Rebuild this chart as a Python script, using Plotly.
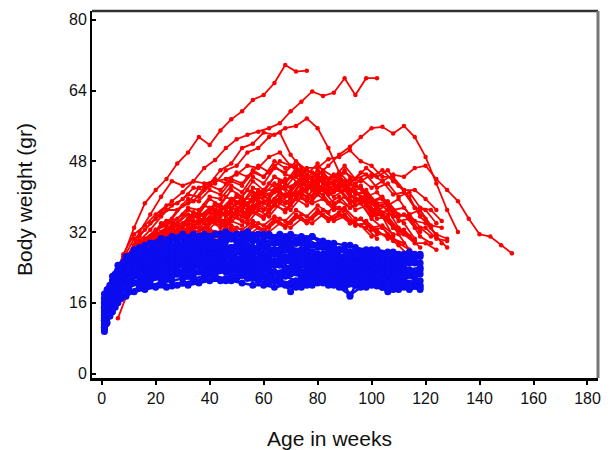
import plotly.graph_objects as go

# ---------------- data ----------------
x_tick_values = [0, 20, 40, 60, 80, 100, 120, 140, 160, 180]
y_tick_values = [0, 16, 32, 48, 64, 80]
x_title = "Age in weeks"
y_title = "Body weight (gr)"

red_weeks_a = [1, 3, 5, 8, 12, 16, 20, 24, 28, 32, 36, 40, 44, 48, 52, 56, 60, 64, 68, 72,
               76, 80, 84, 88, 92, 96, 100, 104, 108, 112, 116, 120, 124, 128, 132, 136, 140, 144, 148, 152]
red_weeks_b = [2, 4, 6, 10, 14, 18, 22, 26, 30, 34, 38, 42, 46, 50, 54, 58, 62, 66, 70, 74,
               78, 82, 86, 90, 94, 98, 102, 106, 110, 114, 118, 122, 126]

blue_weeks_a = [1, 2, 4, 6, 9, 12, 16, 20, 24, 28, 32, 36, 40, 44, 48, 52, 56, 60, 64, 68,
                72, 76, 80, 84, 88, 92, 96, 100, 104, 108, 112, 116]
blue_weeks_b = [1, 3, 5, 7, 10, 14, 18, 22, 26, 30, 34, 38, 42, 46, 50, 54, 58, 62, 66, 70,
                74, 78, 82, 86, 90, 94, 98, 102, 106, 110, 114, 118]

# red group (body weight, g)
red_01 = [11, 18, 22, 26.5, 33, 38.5, 41.5, 44, 47.5, 50, 53.5, 51.7, 55, 57.5, 59.3, 61.9, 63, 65.7, 69.8, 68.3, 68.5]
red_02 = [12, 17, 21, 27, 31, 34, 36.5, 39, 41, 43.5, 46.5, 48.3, 51, 53, 54, 54.7, 55.5, 56.6, 59.3, 61.5, 63.8, 62.8, 63.5, 66.8, 63, 66.8, 66.8]
red_03 = [12, 15, 19, 23, 27, 30, 32.5, 33.5, 37, 38.5, 42, 43, 46, 47.5, 51, 52, 54.5, 54, 55.5, 56, 57.7, 55.5, 51, 45.5, 43, 40, 39, 35.5, 33]
red_04 = [13, 16, 20, 25, 28.5, 30.5, 34, 35, 38, 39, 42, 43, 46, 47, 50, 51, 53.5, 54.5, 49.5, 46.5, 43.5, 43.5, 41.5, 41.5, 39.5, 38.5, 36.5, 35]
red_05 = [12, 16, 19, 22, 26, 28, 30, 31, 32, 33, 34, 35, 36, 37, 38, 39, 40, 41, 42, 43, 44, 45, 47, 49.5, 51.3, 53.5, 55.5, 55.8, 54.3, 56, 53.5, 49, 43, 37, 32]
red_06 = [13, 17, 20, 24, 27.5, 28.5, 31.5, 31.5, 33.5, 33.5, 35, 35, 36.5, 36, 38, 37.5, 39, 39, 40.5, 40.5, 42, 41.5, 43, 42.5, 44, 43.5, 45, 43.5, 45, 44.5, 46.5, 47, 44, 41.5, 39, 35, 31.5, 31, 29, 27.2]
red_07 = [12, 16, 21, 27, 32, 36, 40, 43.5, 42.5, 43.5, 43, 43.5, 44, 45, 47, 46.5, 49, 50, 47, 45, 44, 43.5, 43, 42, 41, 39, 37.5, 36]
red_08 = [11, 15, 18, 22, 25.5, 26.5, 29.5, 29.5, 32, 32.5, 34.5, 34.5, 37, 37.5, 39.5, 39.5, 41.5, 41.5, 44, 44.5, 46.5, 46.5, 48.5, 49, 50.5, 48, 47, 44.5, 44.5, 41.5, 41.5, 39.5, 37]
red_09 = [12, 16, 20, 25, 28.5, 29.5, 32, 33.5, 34, 36.5, 36, 38.5, 37.5, 40.5, 38, 41, 39.5, 42.5, 40, 43.5, 41.5, 44, 41, 42.5, 39, 40.5, 37, 38, 34.5, 35, 31, 29.5]
red_10 = [13, 17, 21, 25, 28.5, 30, 32, 34.5, 34, 37, 36, 39.5, 38, 41.5, 40, 43.5, 41.5, 44.5, 43, 46.5, 45, 47.5, 44, 45, 41.5, 42.5, 39, 39.5, 36, 34, 30.5]
red_11 = [11, 15, 19, 24, 27.5, 28.5, 30, 31.5, 30.5, 33.5, 32, 35, 33.5, 36.5, 35, 38, 36.5, 39.5, 38, 41, 39, 42, 40, 41.5, 38, 39.5, 36, 37, 33, 31, 28.5]
red_12 = [12, 16, 20, 24, 27.5, 29, 31.5, 33, 32.5, 35, 34, 36.5, 35.5, 38.5, 37, 40, 38.5, 41.5, 40, 43, 41.5, 44.5, 42.5, 44, 41, 42, 39, 40, 37, 37.5, 34.5, 34, 31.5, 30.5]
red_13 = [12, 16, 19, 23, 26.5, 28, 29.5, 31, 30.5, 32.5, 31.5, 34, 33, 35.5, 34, 37, 35.5, 38.5, 37, 40, 38.5, 39.5, 37, 37.5, 35, 34.5, 32.5, 30.5]
red_14 = [11, 15, 19, 23, 27.5, 29.5, 32, 34.5, 35, 37.5, 37, 40, 39.5, 42.5, 41, 44.5, 43, 46.5, 45.5, 48, 46, 45, 43, 43.5, 40, 39.5, 36.5, 35.5, 31]
red_15 = [13, 17, 21, 26, 29.5, 31, 33.5, 34, 36, 35.5, 38, 37, 40, 38.5, 41.5, 40, 43, 41.5, 44.5, 42.5, 45.5, 43.5, 45, 42, 43, 40, 41, 38, 39.5, 36, 37, 33.5, 33]
red_16 = [12, 16, 20, 24, 27.5, 28.5, 30, 31.5, 31, 33, 32, 34.5, 33, 35.5, 34.5, 37, 35.5, 38.5, 36.5, 39.5, 38, 40.5, 38.5, 40, 37.5, 38.5, 35.5, 36, 33, 32.5, 30]
red_17 = [12, 16, 20, 24, 28, 29, 31, 32.5, 32, 34.5, 34, 36.5, 36, 38.5, 38, 40.5, 39.5, 42.5, 41, 44, 42.5, 45, 42.5, 43, 40.5, 41, 38, 38.5, 35.5, 36, 33, 31]
red_18 = [11, 14, 18, 22, 25.5, 26.5, 28.5, 29.5, 29, 31, 30, 32, 30.5, 33, 31.5, 34, 32.5, 35, 33.5, 36, 34.5, 37, 35, 36.5, 34, 35, 32.5, 33, 30.5, 29.5]
red_19 = [13, 17, 21, 25, 28.5, 30, 32, 33.5, 33, 35.5, 34.5, 37, 35.5, 38.5, 37, 40, 38.5, 41, 39.5, 42, 40, 41.5, 38.5, 40, 37, 38, 35, 35.5, 32.5, 31]
red_20 = [12, 17, 22, 27, 31.5, 33.5, 36, 38, 38.5, 40.5, 40, 42.5, 41.5, 44, 43, 46, 44.5, 47, 45, 44.5, 42, 43, 40.5, 41.5, 38.5, 39.5, 36.5, 36, 33.5]
red_21 = [None, None, 12.5, 19, 24.5, 26.5, 29, 31, 30.5, 33, 32.5, 35, 34, 37, 35.5, 38.5, 37, 40, 38.5, 41.5, 40, 43, 41.5, 43.5, 40.5, 41.5, 38.5, 39, 36, 35.5, 32]
red_22 = [12, 16, 20, 24, 27.5, 28, 29.5, 30.5, 30, 31.5, 30.5, 32.5, 31.5, 33.5, 32.5, 34.5, 33.5, 35.5, 34.5, 37, 35.5, 38, 36.5, 39, 37.5, 39.5, 37, 38, 35.5, 36, 33, 33, 30.5, 30]
red_23 = [11, 15, 19, 23, 26.5, 27.5, 29, 30, 29.5, 31, 30, 32, 31, 33, 32, 34, 33, 35, 34, 36, 35, 37, 35, 36, 33.5, 34, 31.5, 31.5, 29.5, 28]
red_24 = [13, 17, 21, 26, 30.5, 32.5, 35, 37, 37, 39.5, 39, 41.5, 40.5, 43.5, 42.5, 45.5, 44.5, 48, 46.5, 47, 44, 44.5, 41.5, 42, 39, 39.5, 36, 36, 33, 31.5, 30]
red_25 = [12, 16, 20, 24, 27.5, 29, 31.5, 33, 33.5, 36, 35.5, 38, 37, 40, 38.5, 41.5, 40.5, 43.5, 42, 44.5, 43, 46, 44.5, 47, 44, 45, 42, 43, 40, 41, 37.5, 37, 34.5]
red_26 = [12, 15, 18, 22, 25.5, 26.5, 28, 29.5, 29, 30.5, 29.5, 31.5, 30.5, 32.5, 31, 33.5, 32, 34.5, 33, 35.5, 34, 36.5, 34.5, 36, 34, 35, 33, 33.5, 31.5, 31.5, 29.5, 29.5, 28]
red_27 = [11, 15, 19, 23, 26, 26.5, 28, 29, 28.5, 30, 29, 31, 30, 32, 31, 33, 32, 34, 33, 35, 34, 36, 34.5, 35.5, 33.5, 34, 32, 31, 29, 26.5]
red_28 = [12, 16, 19, 23, 26.5, 27.5, 29, 30.5, 30, 31.5, 30.5, 32.5, 32, 34.5, 33.5, 36.5, 35, 38, 37, 40, 39, 42, 40.5, 43, 41.5, 44, 42, 43.5, 40.5, 41, 37.5, 37, 34]
red_29 = [12, 15, 18.5, 23, 26, 27.5, 29.5, 31, 31, 33, 32.5, 35, 34.5, 37, 36, 39, 38, 41, 40, 43, 42, 45, 43.5, 46, 42.5, 41, 37.5, 35, 31.5, 28]
red_30 = [13, 17, 21, 25.5, 29, 30.5, 32.5, 34, 34, 36, 35.5, 37.5, 37, 39.5, 38.5, 41, 40.5, 43, 42, 45, 43.5, 46, 44, 45, 40.5, 38.5, 35, 33, 30]
red_31 = [12, 16, 20, 24.5, 27.5, 29, 30.5, 32, 31.5, 33.5, 33, 35.5, 34.5, 37, 36.5, 39, 38, 41, 40, 43, 41.5, 44.5, 43, 45.5, 44, 46.5, 44.5, 46, 42.5, 40, 35.5, 33, 29.5]
red_32 = [11, 15, 19, 23, 26.5, 28, 30, 32, 32, 34.5, 34, 37, 36.5, 39.5, 38.5, 42, 41, 44.5, 43.5, 45.5, 42.5, 41.5, 38.5, 37.5, 34.5, 33.5, 31]
red_33 = [12, 16, 21, 26, 30, 32.5, 35.5, 38, 39.5, 42, 41.5, 44, 43, 45.5, 44.5, 47, 45.5, 48, 47, 45.5, 41.5, 40.5, 37.5, 37, 34, 33, 30.5]
red_34 = [12, 16, 20, 24.5, 28, 29.5, 31, 32.5, 32, 34, 33, 35, 34, 36.5, 35.5, 38, 37, 39.5, 38.5, 41, 40, 42.5, 41.5, 44, 43, 45.5, 44.5, 46, 43.5, 41.5, 37.5, 35, 31, 28.5]

# blue group (body weight, g)
blue_01 = [9.5, 11.5, 14, 16, 17.5, 18.5, 19, 19.5, 19.5, 20, 20, 20.5, 21, 21, 21, 20.5, 20, 20, 19.5, 20, 19.5, 20, 20.5, 20, 19.5, 17.8, 19.5, 20, 19.5, 19, 19.5, 20]
blue_02 = [10, 13, 15.5, 17, 18.5, 19.5, 20, 20.5, 19.8, 20.5, 21, 21.5, 21.5, 21, 21.5, 22, 21.5, 21, 20.5, 20, 20.5, 21, 21, 20.5, 20, 20, 20.5, 19.8, 20, 20.5, 19.5, 20]
blue_03 = [11, 13, 15.5, 17.5, 19, 20.5, 20.5, 22, 21.5, 22.5, 22, 23, 22.5, 23.5, 22, 22.5, 21.5, 22, 21, 22, 21, 21.5, 21, 21.5, 20.5, 21, 20.5, 21, 19.5, 21, 20.5]
blue_04 = [12, 14, 16.5, 18.5, 20, 21, 21.5, 22, 22.5, 23, 23, 23.5, 23, 23.5, 23.5, 23, 22.5, 22.5, 22, 22.5, 22, 21.5, 22, 21.5, 21, 21.5, 21, 21, 20.5, 21]
blue_05 = [12, 14.5, 17, 19, 20.5, 22, 22, 23.5, 23, 24.5, 23.5, 24.5, 24, 25, 24, 24.5, 23.5, 24, 23, 23.5, 23, 23.5, 22, 23, 22, 22.5, 22, 22.5, 21, 22, 21.5, 22]
blue_06 = [13, 15.5, 18, 20, 21.5, 22.5, 23, 23.5, 24, 24.5, 24.5, 25, 24.5, 25, 25, 25.5, 25, 24.5, 24.5, 24, 24.5, 24, 23.5, 23.5, 23, 23, 22.5, 23, 22.5, 22, 22.5]
blue_07 = [10.5, 13, 16, 18.5, 20.5, 22.5, 22.5, 24.5, 24, 25.5, 24.5, 26, 25, 26.5, 25, 26.5, 25, 25.5, 25, 25.5, 24, 25, 24, 24.5, 23.5, 24, 23.5, 24, 22.5, 23.5, 23, 22.5]
blue_08 = [14, 16, 18.5, 20.5, 22, 23, 24, 24.5, 25, 25.5, 25.5, 26, 26, 26.5, 26, 26.5, 26, 26, 25.5, 25.5, 25, 25.5, 25, 24.5, 24.5, 24, 24, 23.5, 24, 23.5, 23, 23.5]
blue_09 = [12.5, 15, 18, 20.5, 22.5, 24, 24, 25.5, 25, 26.5, 26, 27, 26.5, 27.5, 26.5, 27.5, 26, 27, 25.5, 26.5, 25.5, 26, 25, 25.5, 24.5, 25, 24.5, 25, 23.5, 24.5, 24]
blue_10 = [15, 17, 19.5, 21.5, 23, 24, 25, 25.5, 26, 26.5, 27, 27, 27.5, 27, 27.5, 28, 27.5, 27, 27, 26.5, 27, 26.5, 26, 26, 25.5, 25.5, 25, 25.5, 25, 24.5, 25]
blue_11 = [11.5, 14, 17.5, 20, 22.5, 24.5, 24.5, 26.5, 26, 27.5, 26.5, 28, 27.5, 28.5, 27.5, 28.5, 28, 28.5, 27, 28, 26.5, 27.5, 26.5, 27, 25.5, 26.5, 25, 26, 25, 25.5, 25, 25]
blue_12 = [16, 18, 20.5, 22.5, 24, 25.5, 26, 26.5, 27, 27.5, 28, 28, 28.5, 28.5, 29, 28.5, 28.5, 28, 28, 28.5, 28, 27.5, 27, 27, 26.5, 26.5, 26, 26, 25.5, 26, 25.5]
blue_13 = [13, 16, 19.5, 22, 24, 26, 26, 27.5, 27, 28.5, 28, 29.5, 28.5, 30, 28.5, 30, 28.5, 29.5, 28, 29, 27.5, 28.5, 27, 27.5, 26.5, 27, 26, 26.5, 25.5, 26.5, 25.5, 26.5]
blue_14 = [17, 19, 21.5, 23.5, 25, 26.5, 27.5, 28, 28.5, 29, 29.5, 30, 29.5, 30, 30, 30.5, 30, 29.5, 29.5, 29, 29.5, 29, 28.5, 28, 28, 27.5, 27.5, 27, 27, 26.5, 27, 26.5]
blue_15 = [14, 17, 20.5, 23, 25.5, 27.5, 27.5, 29.5, 29, 30.5, 30, 31, 30.5, 31.5, 30.5, 31.5, 31, 31.5, 30, 31, 29.5, 30.5, 29, 29.5, 28, 29, 27.5, 28, 27, 27.5, 27, 27]
blue_16 = [18, 20, 22.5, 24.5, 26.5, 28.5, 29.5, 30.5, 30.5, 31, 31.5, 31, 31.5, 31, 31.5, 32, 31.5, 31, 31.5, 31, 30.5, 31, 30, 29.5, 29, 28.5, 28, 28, 27.5, 27, 27.5, 27]
blue_17 = [11, 13.5, 16.5, 19, 21, 22.5, 23.5, 24, 24.5, 25, 25.5, 25, 24.5, 25.5, 25, 24, 25, 25.5, 24.5, 24, 23.5, 24.5, 24, 23.5, 22, 23, 23.5, 22.5, 22, 21, 22, 21.5]
blue_18 = [12.5, 15, 17.5, 19.5, 21, 22, 22.5, 23, 23.5, 23, 24, 24, 23.5, 24, 24.5, 23.5, 23, 23.5, 22.5, 23, 22.5, 22, 22.5, 22, 21.5, 22, 21.5, 21, 20.5, 19.8, 20.5, 21]
blue_19 = [15, 18, 21, 23.5, 25.5, 27, 28, 28.5, 29, 29.5, 30, 30, 30.5, 30, 30.5, 30.5, 30, 30, 29.5, 30, 29.5, 29, 28.5, 28, 28, 27.5, 27, 27, 26.5, 26, 26.5, 26]
blue_20 = [13.5, 16, 19, 21, 23, 24.5, 25.5, 26, 26.5, 27, 27, 27.5, 27, 27.5, 28, 27.5, 27.5, 27, 27, 26.5, 26.5, 26, 26, 25.5, 25, 25, 24.5, 24.5, 24, 24, 23.5, 24]
blue_21 = [12, 14.5, 17, 19.5, 21.5, 22.5, 23, 23.5, 24, 24, 24.5, 24.5, 25, 24.5, 24, 24.5, 24, 23.5, 23, 23.5, 23, 22.5, 23, 22.5, 22, 21.5, 22, 21.5, 21, 21.5, 21, 20.5]
blue_22 = [10.5, 13, 15, 17, 18.5, 19.5, 20, 20.5, 21, 21.5, 21.5, 22, 22, 21.5, 22, 21.5, 21, 20.5, 21, 20.5, 19.5, 20, 20.5, 20, 19.5, 20, 19.5, 20, 18.5, 19, 19.5, 19]
blue_23 = [16, 18.5, 21, 23, 25, 26, 27, 27.5, 28, 28, 28.5, 28.5, 29, 29, 28.5, 29, 28.5, 28.5, 28, 28, 27.5, 27.5, 27, 27, 26.5, 26, 26, 25.5, 25]
blue_24 = [17, 19.5, 22, 24, 26, 28, 29.5, 30.5, 31, 31.5, 31, 31.5, 31.5, 32, 31.5, 32, 31.5, 31.5, 31, 31.5, 31, 31, 29, 28.5, 28, 27.5, 27, 27.5, 27, 26.5, 26]
blue_25 = [13, 15.5, 18.5, 21, 23, 24.5, 25, 25.5, 26, 25.5, 26, 26.5, 26, 26.5, 26.5, 26, 26.5, 26, 25.5, 25.5, 25, 25, 24.5, 24.5, 24, 24, 23.5, 23.5, 23, 23, 22.5, 22]
blue_26 = [11, 13.5, 16, 18, 19.5, 20.5, 21, 21.5, 22, 22, 22.5, 23, 22.5, 23, 23, 22.5, 22, 22, 21.5, 18.5, 21.5, 21, 21.5, 21, 20.5, 21, 20.5, 20, 19.5, 20, 19, 19.5]
blue_27 = [16, 19, 22, 24.5, 26.5, 28, 29, 29.5, 30, 30.5, 30.5, 31, 31, 31.5, 31, 31.5, 31, 31, 30.5, 30, 30, 29.5, 29, 28.5, 28, 27.5, 27, 27.5, 27, 26.5, 27, 26.5]
blue_28 = [14.5, 17, 20, 22, 24, 25.5, 26.5, 27, 27.5, 28, 28, 28.5, 28.5, 28, 28.5, 29, 28.5, 28, 28, 27.5, 28, 27.5, 27, 27, 26.5, 26.5, 26, 25.5, 25.5, 25, 25.5, 25]
blue_29 = [12, 14, 17, 19.5, 21.5, 22.5, 23.5, 24, 24.5, 25, 24.5, 25, 25.5, 25, 25.5, 25, 24.5, 24, 24.5, 24, 23.5, 23.5, 23, 22.5, 23, 17.5, 22.5, 22, 21.5, 21, 21.5]
blue_30 = [15, 17.5, 20, 22, 23.5, 25, 25.5, 26, 26.5, 26.5, 27, 27.5, 27, 27.5, 27.5, 27, 27.5, 27, 26.5, 26.5, 26, 26, 25.5, 25.5, 25, 25, 24.5, 24, 24, 23.5, 23, 22.5]

red_on_a = [red_01, red_03, red_05, red_06, red_08, red_10, red_12, red_14, red_16, red_18,
            red_20, red_22, red_24, red_26, red_28, red_30, red_32, red_34]
red_on_b = [red_02, red_04, red_07, red_09, red_11, red_13, red_15, red_17, red_19, red_21,
            red_23, red_25, red_27, red_29, red_31, red_33]
blue_on_a = [blue_01, blue_03, blue_05, blue_07, blue_09, blue_11, blue_13, blue_15, blue_17,
             blue_19, blue_21, blue_23, blue_25, blue_27, blue_29]
blue_on_b = [blue_02, blue_04, blue_06, blue_08, blue_10, blue_12, blue_14, blue_16, blue_18,
             blue_20, blue_22, blue_24, blue_26, blue_28, blue_30]

# ---------------- figure ----------------
RED = "rgb(250,0,0)"
BLUE = "rgb(12,12,240)"
FONT = "Liberation Sans, Arial, Helvetica, sans-serif"

fig = go.Figure()


def add_curves(curves, weeks, color, lw, ms):
    for ys in curves:
        fig.add_trace(go.Scatter(
            x=weeks[:len(ys)], y=ys, mode="lines+markers",
            line=dict(color=color, width=lw),
            marker=dict(color=color, size=ms),
            showlegend=False, hoverinfo="skip", connectgaps=False))


add_curves(red_on_a, red_weeks_a, RED, 1.8, 4.5)
add_curves(red_on_b, red_weeks_b, RED, 1.8, 4.5)
add_curves(blue_on_a, blue_weeks_a, BLUE, 2.5, 7)
add_curves(blue_on_b, blue_weeks_b, BLUE, 2.5, 7)

# page body has an 8px default margin, so the figure is 8px smaller on each side
fig.update_layout(
    width=604, height=442,
    margin=dict(l=84, r=14, t=3, b=72),
    paper_bgcolor="white", plot_bgcolor="white",
    font=dict(family=FONT, size=16, color="black"),
    xaxis=dict(range=[-3.6, 183.9], tickvals=x_tick_values, ticks="outside", ticklen=4,
               tickwidth=2, tickcolor="black", showline=True, linecolor="black", linewidth=3,
               showgrid=False, zeroline=False, tickfont=dict(size=16, color="#111")),
    yaxis=dict(range=[-1.0, 82.0], tickvals=y_tick_values, ticks="inside", ticklen=4,
               tickwidth=2, tickcolor="black", showline=True, linecolor="black", linewidth=2,
               showgrid=False, zeroline=False, tickfont=dict(size=16, color="#111")),
    shapes=[
        dict(type="line", xref="paper", yref="paper", x0=0, x1=1, y0=1, y1=1,
             line=dict(color="#333333", width=2.5)),
        dict(type="line", xref="paper", yref="paper", x0=1, x1=1, y0=0, y1=1,
             line=dict(color="#777777", width=3)),
    ],
    annotations=[
        dict(text=x_title, xref="paper", yref="paper", x=(329 - 92) / 506, y=(378 - 438) / 367,
             xanchor="center", yanchor="middle", showarrow=False,
             font=dict(size=21, color="#111", family=FONT)),
        dict(text=y_title, xref="paper", yref="paper", x=(25 - 92) / 506, y=(378 - 200) / 367,
             xanchor="center", yanchor="middle", showarrow=False, textangle=-90,
             font=dict(size=21, color="#111", family=FONT)),
    ],
)

fig.write_html("out.html")
